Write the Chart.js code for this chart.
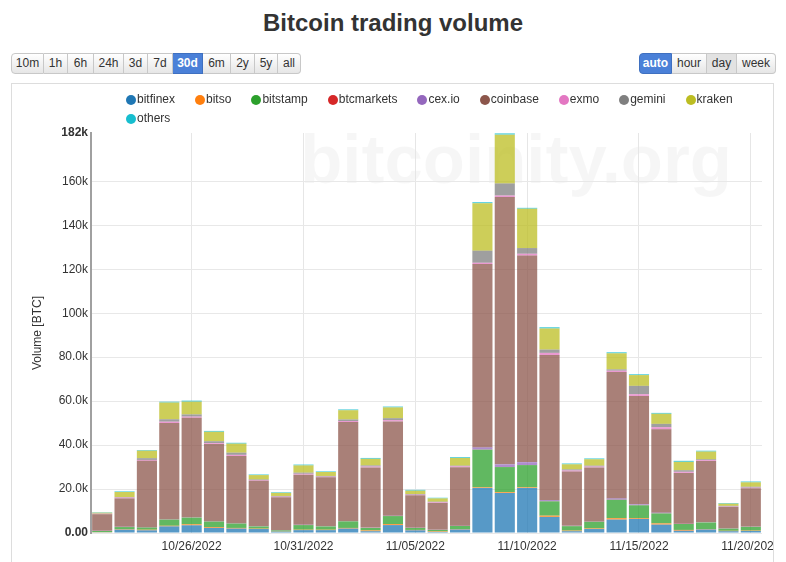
<!DOCTYPE html>
<html><head><meta charset="utf-8">
<script src="https://cdn.jsdelivr.net/npm/chart.js@4.4.0/dist/chart.umd.min.js"></script>
<style>
body{margin:0;background:#fff;font-family:"Liberation Sans",Arial,sans-serif;color:#333;width:786px;height:562px;overflow:hidden;position:relative}
#title{position:absolute;left:0;top:9px;width:786px;text-align:center;font-size:24px;font-weight:bold;line-height:28px;color:#333}
.grp{position:absolute;top:53px;display:flex;height:21px}
.btn{box-sizing:border-box;height:21px;line-height:19px;font-size:12px;text-align:center;color:#333;border:1px solid #c8c8c8;border-left:none;background:linear-gradient(#ffffff,#e6e6e6)}
.btn:first-child{border-left:1px solid #c8c8c8;border-radius:4px 0 0 4px}
.btn:last-child{border-radius:0 4px 4px 0}
.btn.on{background:#4a80d8;color:#fff;font-weight:bold;border-color:#3f70c0}
.btn.down{background:#e2e2e2}
#box{position:absolute;left:11px;top:83px;width:763px;height:490px;box-sizing:border-box;border:1px solid #ddd;overflow:hidden}
#cv{position:absolute;left:0;top:0}
#legend{position:absolute;left:114px;top:6px;width:650px;font-size:12px;line-height:19px;color:#333}
.li{display:inline-flex;align-items:center;margin-right:20px;white-space:nowrap;vertical-align:top}
.dot{width:10px;height:10px;border-radius:50%;display:inline-block;margin-right:1px}
</style>
</head><body>
<div id="title">Bitcoin trading volume</div>
<div class="grp" id="g1" style="left:11px"></div>
<div class="grp" id="g2" style="left:639px"></div>
<div id="box">
  <canvas id="cv" width="780" height="478"></canvas>
  <div id="legend"></div>
</div>
<script>
// ---- data (thousands of BTC) ----
const categories = ['10/22/2022','10/23/2022','10/24/2022','10/25/2022','10/26/2022','10/27/2022','10/28/2022','10/29/2022','10/30/2022','10/31/2022',
  '11/01/2022','11/02/2022','11/03/2022','11/04/2022','11/05/2022','11/06/2022','11/07/2022','11/08/2022','11/09/2022','11/10/2022',
  '11/11/2022','11/12/2022','11/13/2022','11/14/2022','11/15/2022','11/16/2022','11/17/2022','11/18/2022','11/19/2022','11/20/2022'];
const seriesNames = ['bitfinex','bitso','bitstamp','btcmarkets','cex.io','coinbase','exmo','gemini','kraken','others'];
const seriesColors = ['#1f77b4','#ff7f0e','#2ca02c','#d62728','#9467bd','#8c564b','#e377c2','#7f7f7f','#bcbd22','#17becf'];
const bitfinex   = [0.3,1.5,1.2,3.0,3.5,2.3,2.0,1.8,0.6,1.3, 1.3,2.0,0.8,3.6,1.2,0.5,1.6,20.5,18.2,20.5, 7.3,0.8,1.8,6.1,6.4,3.8,1.0,1.6,0.8,0.9];
const bitso      = [0.1,0.2,0.3,0.3,0.5,0.4,0.3,0.2,0.1,0.2, 0.2,0.3,0.4,0.5,0.2,0.3,0.2,0.3,0.4,0.3, 0.6,0.3,0.3,0.7,0.4,0.6,0.4,0.2,0.2,0.2];
const bitstamp   = [0.5,1.0,1.0,2.8,3.0,2.5,2.0,1.0,0.5,2.1, 1.5,3.0,1.1,3.6,0.9,0.6,1.4,17.1,11.4,10.1, 6.5,2.0,3.0,8.3,5.8,4.5,2.7,3.0,1.0,1.7];
const btcmarkets = [0.05,0.05,0.05,0.05,0.05,0.05,0.05,0.05,0.05,0.05, 0.05,0.05,0.05,0.05,0.05,0.05,0.05,0.05,0.05,0.05, 0.05,0.05,0.05,0.05,0.05,0.05,0.05,0.05,0.05,0.05];
const cexio      = [0.1,0.1,0.1,0.1,0.1,0.1,0.1,0.1,0.1,0.1, 0.1,0.1,0.1,0.1,0.1,0.1,0.1,1.0,1.2,1.3, 0.5,0.1,0.1,0.6,0.4,0.3,0.1,0.1,0.1,0.1];
const coinbase   = [7.5,12.9,30.2,43.8,45.3,35.2,30.6,20.6,14.9,22.8, 22.2,45.0,27.4,42.9,14.7,12.1,26.6,83.4,121.6,94.0, 66.0,24.7,24.6,57.5,49.3,37.9,23.1,27.8,9.7,17.4];
const exmo       = [0.2,0.4,0.4,0.6,0.5,0.4,0.5,0.3,0.3,0.4, 0.3,0.5,0.4,0.6,0.3,0.3,0.4,0.6,0.7,0.8, 1.0,0.5,0.4,0.6,0.8,1.0,0.5,0.4,0.2,0.3];
const gemini     = [0.1,0.2,0.8,1.1,1.0,0.8,1.0,0.3,0.3,0.5, 0.3,0.7,0.5,0.9,0.3,0.3,0.3,5.5,5.5,2.6, 1.5,0.5,0.4,0.6,3.8,1.5,0.7,0.4,0.3,0.4];
const kraken     = [0.4,2.3,3.4,7.6,5.8,4.3,4.1,2.0,1.4,3.3, 1.8,4.2,3.0,4.9,1.5,1.5,3.5,21.6,22.2,17.9, 9.6,2.3,2.9,7.3,4.9,4.6,3.8,3.5,1.0,2.0];
const others     = [0.2,0.3,0.3,0.4,0.5,0.4,0.4,0.3,0.3,0.4, 0.3,0.4,0.4,0.4,0.4,0.3,0.4,0.5,0.6,0.4, 0.6,0.4,0.4,0.5,0.4,0.4,0.5,0.4,0.3,0.4];
const yTickValues = [0,20,40,60,80,100,120,140,160,182];
const yTickLabels = ['0.00','20.0k','40.0k','60.0k','80.0k','100k','120k','140k','160k','182k'];
const rangeButtons = ['10m','1h','6h','24h','3d','7d','30d','6m','2y','5y','all'];
const rangeWidths = [33,24,26,30,24,25,30,28,24,23,23];
const unitButtons = ['auto','hour','day','week'];
const unitWidths = [33,35,30,39];

const seriesValues = [bitfinex,bitso,bitstamp,btcmarkets,cexio,coinbase,exmo,gemini,kraken,others];

function mkButtons(el, names, widths, on, down){
  names.forEach((n,i)=>{const b=document.createElement('div');b.className='btn'+(n===on?' on':'')+(n===down?' down':'');b.style.width=widths[i]+'px';b.textContent=n;el.appendChild(b);});
}
mkButtons(document.getElementById('g1'), rangeButtons, rangeWidths, '30d', null);
mkButtons(document.getElementById('g2'), unitButtons, unitWidths, 'auto', 'day');

const lg=document.getElementById('legend');
seriesNames.forEach((n,i)=>{const s=document.createElement('span');s.className='li';s.innerHTML='<span class="dot" style="background:'+seriesColors[i]+'"></span>';s.appendChild(document.createTextNode(n));lg.appendChild(s);});

function alpha(hex,a){const r=parseInt(hex.slice(1,3),16),g=parseInt(hex.slice(3,5),16),b=parseInt(hex.slice(5,7),16);return 'rgba('+r+','+g+','+b+','+a+')';}

const watermark={id:'wm',beforeDraw(c){const ctx=c.ctx,a=c.chartArea;ctx.save();ctx.font='bold 69px "Liberation Sans", Arial, sans-serif';ctx.fillStyle='rgba(0,0,0,0.035)';ctx.textAlign='right';ctx.textBaseline='alphabetic';ctx.fillText('bitcoinity.org',a.right-30,a.top+50);ctx.restore();}};

const FONT='"Liberation Sans", Arial, sans-serif';
new Chart(document.getElementById('cv'),{
  type:'bar',
  data:{labels:categories,datasets:seriesNames.map((n,i)=>({label:n,data:seriesValues[i],backgroundColor:alpha(seriesColors[i],0.75),borderWidth:0,barPercentage:0.9,categoryPercentage:1.0}))},
  options:{
    responsive:false,animation:false,
    layout:{padding:{top:49,right:30,bottom:0,left:0}},
    plugins:{legend:{display:false},tooltip:{enabled:false},title:{display:false}},
    scales:{
      x:{stacked:true,offset:true,
        border:{display:false},
        grid:{offset:false,drawTicks:false,color:c=>(c.index%5===4)?'#e6e6e6':'rgba(0,0,0,0)'},
        ticks:{autoSkip:false,maxRotation:0,minRotation:0,padding:6,color:'#333',font:{size:12,family:FONT},
          callback:(v,i)=>(i%5===4)?categories[i]:''},
        afterFit(s){s.height=29;}
      },
      y:{stacked:true,min:0,max:182,
        border:{display:true,color:'#a0a0a0',width:2},
        grid:{drawTicks:false,color:c=>(c.tick&&c.tick.value===182)?'rgba(0,0,0,0)':'#e8e8e8'},
        title:{display:true,text:'Volume [BTC]',color:'#333',font:{size:12,family:FONT},padding:{top:18,bottom:0}},
        ticks:{padding:3,color:'#333',
          font:c=>({size:12,family:FONT,weight:(c.tick&&(c.tick.value===0||c.tick.value===182))?'bold':'normal'}),
          callback:(v,i)=>yTickLabels[i]},
        afterBuildTicks(s){s.ticks=yTickValues.map(v=>({value:v}));},
        afterFit(s){s.width=79;}
      }
    }
  },
  plugins:[watermark]
});
</script>
</body></html>
